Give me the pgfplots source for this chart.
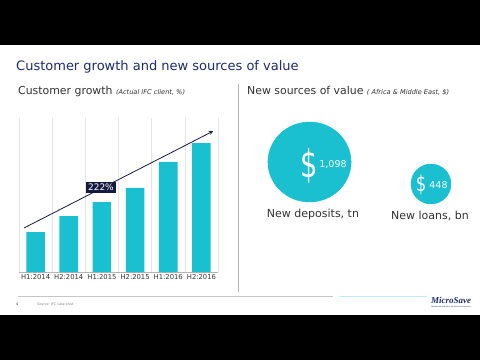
\documentclass[border=0pt]{standalone}
\usepackage{pgfplots}
\pgfplotsset{compat=1.18}
\usepackage{fontspec}
\setmainfont{DejaVu Sans}
\newfontfamily\serifb{Liberation Serif}
\definecolor{cyanbar}{HTML}{1BC0D0}
\definecolor{navy}{HTML}{1E2A6A}
\definecolor{darknavy}{HTML}{151A3F}
\definecolor{txt}{HTML}{333333}
\definecolor{gridc}{HTML}{E4E4E4}
\begin{document}
\begin{tikzpicture}
\useasboundingbox (0,0) rectangle (480pt,360pt);
\fill[black] (0,0) rectangle (480pt,360pt);
\fill[white] (0,45pt) rectangle (480pt,315pt);
% title
\node[anchor=base west, inner sep=0, text=navy, font=\fontsize{13}{15}\selectfont] at (16pt,290pt) {Customer growth and new sources of value};
\node[anchor=base west, inner sep=0, text=txt, font=\fontsize{10.9}{12}\selectfont] at (18pt,265.5pt) {Customer growth {\fontsize{6.6}{8}\selectfont\itshape(Actual IFC client, \%)}};
\node[anchor=base west, inner sep=0, text=txt, font=\fontsize{10.9}{12}\selectfont] at (247pt,265.5pt) {New sources of value {\fontsize{6.6}{8}\selectfont\itshape( Africa \& Middle East, \$)}};
% separator and footer
\draw[gray!60, line width=0.8pt] (238pt,276pt) -- (238pt,68pt);
\draw[gray!45, line width=0.6pt] (18pt,64pt) -- (333pt,64pt);
\draw[cyan!25, line width=0.6pt] (339pt,64pt) -- (427pt,64pt);
\node[anchor=base west, inner sep=0, text=txt, font=\fontsize{3.5}{4}\selectfont] at (16pt,55pt) {4};
\node[anchor=base west, inner sep=0, text=gray, font=\fontsize{3.3}{4}\selectfont\itshape] at (37pt,55pt) {Source: IFC case stud};
\node[anchor=base, inner sep=0, text=navy, font=\serifb\bfseries\itshape\fontsize{9}{10}\selectfont] at (451pt,56.5pt) {MicroSave};
\node[anchor=base, inner sep=0, text=navy, font=\fontsize{1.9}{2}\selectfont] at (451pt,52.5pt) {Market-led solutions for financial services};
% bar chart
\begin{axis}[at={(19pt,88pt)}, anchor=south west, scale only axis,
  width=199pt, height=154pt,
  xmin=-0.5, xmax=5.5, ymin=0, ymax=385,
  axis x line*=bottom, axis y line=none,
  x axis line style={gray!60, line width=0.6pt},
  xtick={0,...,5},
  xticklabels={H1:2014,H2:2014,H1:2015,H2:2015,H1:2016,H2:2016},
  minor xtick={-0.5,0.5,...,5.5},
  xminorgrids=true, minor x grid style={gridc, line width=0.5pt},
  major tick length=0pt, minor tick length=0pt,
  ytick=\empty,
  xticklabel style={font=\fontsize{6.8}{8}\selectfont, text=txt, yshift=1pt},
  clip=false]
\addplot[ybar, fill=cyanbar, draw=none, bar width=0.56] coordinates {(0,100) (1,140) (2,175) (3,210) (4,275) (5,322)};
\draw[-stealth, darknavy, line width=0.8pt] (axis cs:-0.35,110) -- (axis cs:5.35,352);
\node[fill=darknavy, text=white, font=\fontsize{9}{10}\selectfont, inner xsep=2pt, inner ysep=2pt] at (axis cs:1.97,211) {222\%};
\end{axis}
% bubbles
\begin{axis}[at={(240pt,45pt)}, anchor=south west, scale only axis,
  width=240pt, height=270pt, xmin=240, xmax=480, ymin=45, ymax=315,
  hide axis, clip=false]
\addplot[only marks, mark=*, mark size=40pt, color=cyanbar, mark options={fill=cyanbar, draw=cyanbar, xscale=1.04}] coordinates {(309.5,198)};
\addplot[only marks, mark=*, mark size=20pt, color=cyanbar, mark options={fill=cyanbar, draw=cyanbar}] coordinates {(431,176)};
\end{axis}
\node[text=white, font=\fontsize{38}{40}\selectfont, inner sep=0, xscale=0.72] at (309.5pt,194pt) {\$};
\node[text=white, font=\fontsize{9.5}{11}\selectfont, inner sep=0] at (333pt,195pt) {1,098};
\node[text=white, font=\fontsize{22}{24}\selectfont, inner sep=0, xscale=0.75] at (421pt,175pt) {\$};
\node[text=white, font=\fontsize{9.5}{11}\selectfont, inner sep=0] at (438.5pt,175pt) {448};
\node[anchor=base, text=txt, font=\fontsize{11}{12}\selectfont, inner sep=0] at (313pt,143pt) {New deposits, tn};
\node[anchor=base, text=txt, font=\fontsize{11}{12}\selectfont, inner sep=0] at (430pt,141pt) {New loans, bn};
\end{tikzpicture}
\end{document}
